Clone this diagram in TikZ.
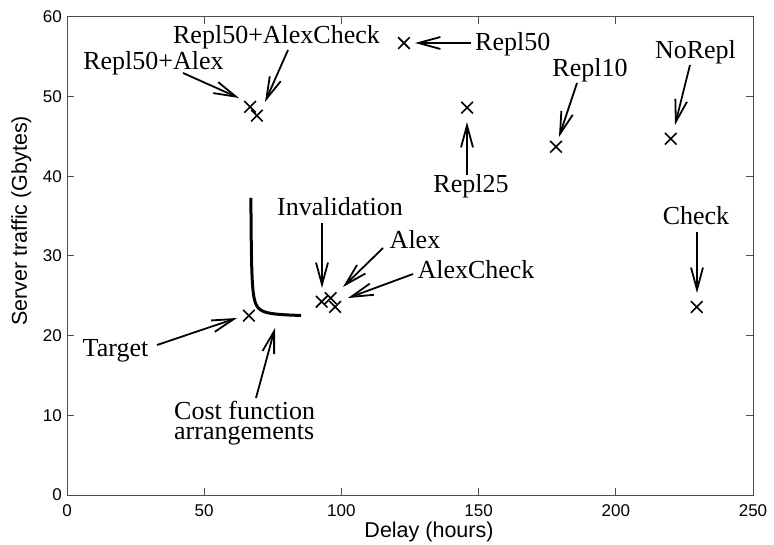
\documentclass[tikz,border=0pt]{standalone}
\usepackage{fontspec}
\setmainfont{Liberation Serif}
\setsansfont{Liberation Sans}
\usetikzlibrary{arrows.meta, shapes.misc}

\begin{document}
\begin{tikzpicture}[x=1pt, y=-1pt,
  note/.style={font=\fontsize{26}{26}\selectfont, inner sep=0pt, anchor=base},
  ticklbl/.style={font=\sffamily\fontsize{17}{17}\selectfont, inner sep=0pt},
  axlbl/.style={font=\sffamily\fontsize{21.5}{21.5}\selectfont, inner sep=0pt},
  pointer/.style={line width=1.8pt, -{Straight Barb[length=22pt,width=12pt]}},
  xpt/.style={cross out, draw, line width=1.6pt, minimum size=10pt, inner sep=0pt},
  frame/.style={draw=black!70, line width=1pt},
]
\useasboundingbox (0,0) rectangle (774,545);

% ---------- plot area in data units: delay (hours) vs traffic (GB)
\begin{scope}[shift={(67pt,-495pt)}, x=2.744pt, y=7.97pt]
  \draw[frame] (0,0) rectangle (250,60);
  \foreach \t in {50,100,150,200} {
    \draw[frame] (\t,0) -- ++(0pt,7pt);
    \draw[frame] (\t,60) -- ++(0pt,-7pt);
  }
  \foreach \t in {10,20,...,50} {
    \draw[frame] (0,\t) -- ++(7pt,0pt);
    \draw[frame] (250,\t) -- ++(-7pt,0pt);
  }
  \foreach \t in {0,10,...,60}
    \node[ticklbl, anchor=east] at ([xshift=-5pt]0,\t) {\t};
  \foreach \t in {0,50,...,250}
    \node[ticklbl, anchor=base] at ([yshift=-21pt]\t,0) {\t};

  % cost-function trade-off curve (hyperbola)
  \draw[line width=3pt] plot[domain=-1.51:2.918, samples=100, smooth, variable=\s]
    ({66.8+exp(\s)}, {22.35+3.3*exp(-\s)});

  % measured configurations
  \node[xpt] (mTarget) at (66.3,22.5) {};
  \node[xpt] (mRA)     at (66.7,48.7) {};
  \node[xpt] (mRAC)    at (69.2,47.6) {};
  \node[xpt] (mR50)    at (122.8,56.7) {};
  \node[xpt] (mR25)    at (145.8,48.6) {};
  \node[xpt] (mR10)    at (178.2,43.7) {};
  \node[xpt] (mNoRepl) at (220,44.7) {};
  \node[xpt] (mCheck)  at (229.5,23.6) {};
  \node[xpt] (mInval)  at (92.8,24.25) {};
  \node[xpt] (mAlex)   at (96.1,24.7) {};
  \node[xpt] (mAC)     at (97.7,23.6) {};
\end{scope}

% ---------- axis titles
\node[axlbl, anchor=base] (xlab) at (429,537) {Delay (hours)};
\node[axlbl, anchor=base, rotate=90] (ylab) at (27,221) {Server traffic (Gbytes)};

% ---------- annotations
\node[note] (lA) at (276.5,44) {Repl50+AlexCheck};
\node[note] (lB) at (153.5,70) {Repl50+Alex};
\node[note, anchor=base west] (lC) at (475,51) {Repl50};
\node[note] (lD) at (471,193) {Repl25};
\node[note] (lE) at (590,77) {Repl10};
\node[note] (lF) at (695.5,59) {NoRepl};
\node[note] (lG) at (696,225) {Check};
\node[note] (lH) at (340,216) {Invalidation};
\node[note] (lI) at (415,249) {Alex};
\node[note] (lJ) at (476,279) {AlexCheck};
\node[note] (lK) at (115.5,357) {Target};
\node[note, anchor=base west] (lL) at (174,419) {Cost function};
\node[note, anchor=base west] (lL2) at (174,439) {arrangements};

% arrow tips
\coordinate (tA) at (265,102);
\coordinate (tB) at (239,98);
\coordinate (tC) at (415,43);
\coordinate (tD) at (467,122);
\coordinate (tE) at (559,137);
\coordinate (tF) at (675,125);
\coordinate (tG) at (697,293);
\coordinate (tH) at (322,288);
\coordinate (tI) at (343,287);
\coordinate (tJ) at (348,298);
\coordinate (tK) at (237,318);
\coordinate (tL) at (275,328);

\draw[pointer] ([shift={(11.5,6)}]lA.base) -- (tA);
\draw[pointer] ([shift={(29.5,3)}]lB.base) -- (tB);
\draw[pointer] ([shift={(-4,-8)}]lC.base west) -- (tC);
\draw[pointer] ([shift={(-4,-18)}]lD.base) -- (tD);
\draw[pointer] ([shift={(-13,6)}]lE.base) -- (tE);
\draw[pointer] ([shift={(-5.5,6)}]lF.base) -- (tF);
\draw[pointer] ([shift={(1,7)}]lG.base) -- (tG);
\draw[pointer] ([shift={(-18,7)}]lH.base) -- (tH);
\draw[pointer] ([shift={(-32,-1)}]lI.base) -- (tI);
\draw[pointer] ([shift={(-63,-5)}]lJ.base) -- (tJ);
\draw[pointer] ([shift={(41.5,-12)}]lK.base) -- (tK);
\draw[pointer] ([shift={(82,-21)}]lL.base west) -- (tL);
\end{tikzpicture}
\end{document}
